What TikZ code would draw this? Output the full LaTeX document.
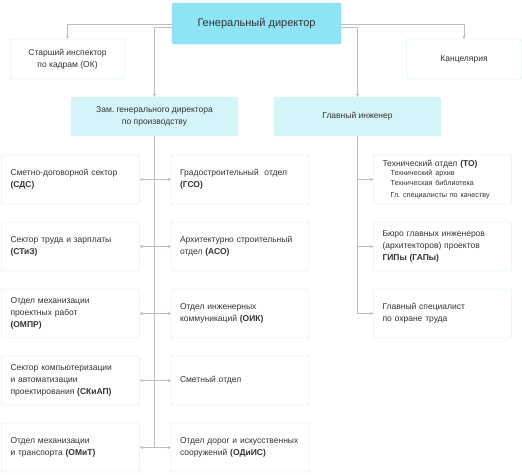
\documentclass[tikz,border=0pt]{standalone}
\usepackage{fontspec}
\setmainfont{Liberation Sans}
\usetikzlibrary{arrows.meta}

\definecolor{boxline}{HTML}{BCEBF6}
\definecolor{headfill}{HTML}{8EE3F4}
\definecolor{headline}{HTML}{74D8EE}
\definecolor{subfill}{HTML}{D4F4FA}
\definecolor{linkgray}{HTML}{BEBEBE}
\definecolor{txt}{HTML}{333333}

\begin{document}
\frenchspacing
\begin{tikzpicture}[
    x=1pt, y=-1pt,
    every node/.style={text=txt},
    head box/.style={
        rectangle,
        rounded corners=2pt,
        draw=headline,
        fill=headfill,
        minimum width=169pt,
        minimum height=41pt,
        inner sep=0pt,
        font=\fontsize{11}{13}\selectfont
    },
    staff box/.style={
        rectangle,
        rounded corners=2pt,
        draw=boxline,
        fill=white,
        minimum width=115pt,
        minimum height=40pt,
        inner sep=0pt,
        align=center,
        font=\fontsize{8.5}{12.5}\selectfont
    },
    deputy box/.style={
        rectangle,
        rounded corners=2pt,
        draw=subfill,
        fill=subfill,
        minimum width=167pt,
        minimum height=39pt,
        inner sep=0pt,
        align=center,
        font=\fontsize{8.5}{12.5}\selectfont
    },
    dept box/.style={
        rectangle,
        rounded corners=2pt,
        draw=boxline,
        fill=white,
        minimum width=138pt,
        minimum height=49pt,
        text width=120pt,
        inner xsep=9pt,
        inner ysep=0pt,
        align=left,
        font=\fontsize{8.5}{12}\selectfont
    },
    link/.style={
        -{Triangle[length=3pt,width=3pt]},
        linkgray,
        line width=0.5pt
    },
    trunk/.style={
        linkgray,
        line width=0.5pt
    }
]

\def\rowsep{67}
\def\rowtop{179.5}

%% --- Bounding box ---
\useasboundingbox (0,0) rectangle (522,474);

%% --- Top level ---
\node[head box] (GD) at (256.5,23.5) {Генеральный директор};
\node[staff box] (OK) at (67.5,59) {Старший инспектор\\по кадрам (ОК)};
\node[staff box] (KAN) at (464,59) {Канцелярия};

%% --- Second level ---
\node[deputy box] (ZAM) at (154.5,116.5) {Зам.\ генерального директора\\по производству};
\node[deputy box] (GI) at (357.5,116.5) {Главный инженер};

%% --- Left column ---
\node[dept box] (L1) at (70.5,\rowtop) {Сметно-договорной сектор\\\textbf{(СДС)}};
\node[dept box] (L2) at (70.5,\rowtop+\rowsep) {Сектор труда и зарплаты\\\textbf{(СТиЗ)}};
\node[dept box] (L3) at (70.5,\rowtop+2*\rowsep) {Отдел механизации\\проектных работ\\\textbf{(ОМПР)}};
\node[dept box] (L4) at (70.5,\rowtop+3*\rowsep) {Сектор компьютеризации\\и автоматизации\\проектирования \textbf{(СКиАП)}};
\node[dept box] (L5) at (70.5,\rowtop+4*\rowsep) {Отдел механизации\\и транспорта \textbf{(ОМиТ)}};

%% --- Middle column ---
\node[dept box] (M1) at (240,\rowtop) {Градостроительный~ отдел\\\textbf{(ГСО)}};
\node[dept box] (M2) at (240,\rowtop+\rowsep) {Архитектурно строительный\\отдел \textbf{(АСО)}};
\node[dept box] (M3) at (240,\rowtop+2*\rowsep) {Отдел инженерных\\коммуникаций \textbf{(ОИК)}};
\node[dept box] (M4) at (240,\rowtop+3*\rowsep) {Сметный отдел};
\node[dept box] (M5) at (240,\rowtop+4*\rowsep) {Отдел дорог и искусственных\\сооружений \textbf{(ОДиИС)}};

%% --- Right column ---
\node[dept box] (R1) at (442.5,\rowtop) {Технический отдел \textbf{(ТО)}\\[-1.5pt]
    {\fontsize{7.2}{10}\selectfont\hspace*{8pt}Технический архив\\\hspace*{8pt}Техническая библиотека\\\hspace*{8pt}Гл.\ специалисты по качеству}};
\node[dept box] (R2) at (442.5,\rowtop+\rowsep) {Бюро главных инженеров\\(архитекторов) проектов\\\textbf{ГИПы (ГАПы)}};
\node[dept box] (R3) at (442.5,\rowtop+2*\rowsep) {Главный специалист\\по охране труда};

%% --- Connections from the director ---
\draw[link] ([yshift=-0.5pt]GD.west) -| (OK.north);
\draw[link] ([yshift=-0.5pt]GD.east) -| (KAN.north);
\draw[link] ([yshift=-3.5pt]GD.west) -| (ZAM.north);
\draw[link] ([yshift=-3.5pt]GD.east) -| (GI.north);

%% --- Trunk of the deputy ---
\coordinate (T1) at (ZAM.south |- L1.east);
\coordinate (T2) at (ZAM.south |- L2.east);
\coordinate (T3) at (ZAM.south |- L3.east);
\coordinate (T4) at (ZAM.south |- L4.east);
\coordinate (T5) at (ZAM.south |- L5.east);
\draw[trunk] (ZAM.south) -- (T5);
\draw[link] (T1) -- (L1); \draw[link] (T1) -- (M1);
\draw[link] (T2) -- (L2); \draw[link] (T2) -- (M2);
\draw[link] (T3) -- (L3); \draw[link] (T3) -- (M3);
\draw[link] (T4) -- (L4); \draw[link] (T4) -- (M4);
\draw[link] (T5) -- (L5); \draw[link] (T5) -- (M5);

%% --- Trunk of the chief engineer ---
\coordinate (S1) at (GI.south |- R1.west);
\coordinate (S2) at (GI.south |- R2.west);
\coordinate (S3) at (GI.south |- R3.west);
\draw[trunk] (GI.south) -- (S3);
\draw[link] (S1) -- (R1);
\draw[link] (S2) -- (R2);
\draw[link] (S3) -- (R3);

\end{tikzpicture}
\end{document}
